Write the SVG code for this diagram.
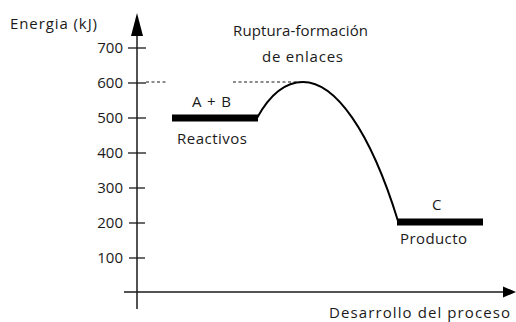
<svg xmlns="http://www.w3.org/2000/svg" width="516" height="322" viewBox="0 0 516 322">
<style>
text{font-family:"Open Sans","Noto Sans","Liberation Sans",sans-serif;font-size:15px;fill:#1a1a1a}
.num{text-anchor:end}
.ax{stroke:#1a1a1a;stroke-width:1.5;fill:none}
.tick{stroke:#1a1a1a;stroke-width:1.3}
.dash{stroke:#1a1a1a;stroke-width:1;stroke-dasharray:3,2.5;fill:none}
.bar{stroke:#000;stroke-width:7;fill:none}
.curve{stroke:#000;stroke-width:2;fill:none}
</style>
<rect width="516" height="322" fill="#fff"/>
<g id="axes">
<line class="ax" x1="137" y1="30" x2="137" y2="309"/>
<polygon points="137,13 143,36 131,36" fill="#000"/>
<line class="ax" x1="124" y1="292" x2="505" y2="292"/>
<polygon points="516,292 503,286.5 503,297.5" fill="#000"/>
<line class="tick" x1="128" y1="48" x2="146" y2="48"/>
<line class="tick" x1="128" y1="83" x2="146" y2="83"/>
<line class="tick" x1="128" y1="118" x2="146" y2="118"/>
<line class="tick" x1="128" y1="153" x2="146" y2="153"/>
<line class="tick" x1="129" y1="188" x2="145" y2="188"/>
<line class="tick" x1="129" y1="223" x2="145" y2="223"/>
<line class="tick" x1="129" y1="258" x2="145" y2="258"/>
<text x="10" y="29" textLength="87">Energia (kJ)</text>
<text class="num" x="123" y="53">700</text>
<text class="num" x="123" y="88">600</text>
<text class="num" x="123" y="123">500</text>
<text class="num" x="123" y="158">400</text>
<text class="num" x="123" y="193">300</text>
<text class="num" x="123" y="228">200</text>
<text class="num" x="123" y="263">100</text>
<text x="329" y="318" textLength="181">Desarrollo del proceso</text>
</g>
<g id="connectors">
<line class="dash" x1="146" y1="82" x2="168" y2="82"/>
<line class="dash" x1="233" y1="82" x2="300" y2="82"/>
<path class="curve" d="M257,118 C268,98 282,82 303,82 C335,82 370,130 398,221"/>
</g>
<g id="reactivos">
<line class="bar" x1="172" y1="118" x2="258" y2="118"/>
<text x="192" y="107" textLength="39">A + B</text>
<text x="177" y="144" textLength="70">Reactivos</text>
</g>
<g id="transicion">
<text x="233" y="36" textLength="135">Ruptura-formación</text>
<text x="262" y="62" textLength="81">de enlaces</text>
</g>
<g id="producto">
<line class="bar" x1="397" y1="222" x2="483" y2="222"/>
<text x="432" y="210">C</text>
<text x="400" y="244" textLength="67">Producto</text>
</g>
</svg>
